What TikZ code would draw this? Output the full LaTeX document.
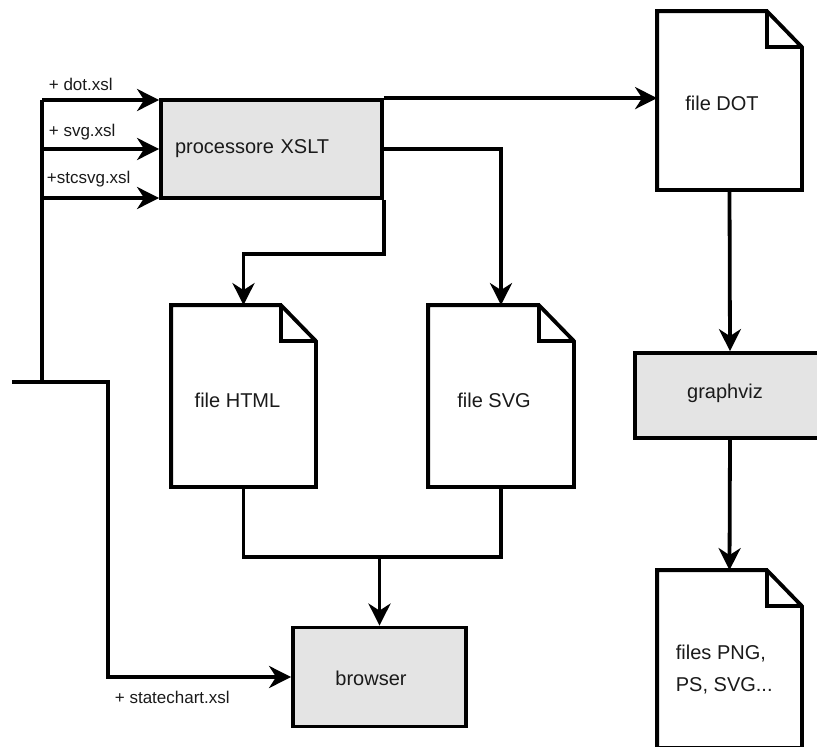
\documentclass[tikz,border=0pt]{standalone}
\usepackage{fontspec}
\setmainfont{Liberation Sans}
\usetikzlibrary{arrows.meta}

\definecolor{boxgray}{HTML}{E4E4E4}
\definecolor{ink}{HTML}{1A1A1A}

% dog-eared page outline drawn over a doc node
\newcommand\dogear[1]{%
  \draw[pageline] (#1.north west) -- ([xshift=-35pt]#1.north east)
    -- ([yshift=-36pt]#1.north east) -- (#1.south east) -- (#1.south west) -- cycle;
  \draw[pageline] ([xshift=-35pt]#1.north east) |- ([yshift=-36pt]#1.north east);
}

\begin{document}
\begin{tikzpicture}[x=1pt, y=-1pt,
  line width=3.8pt,
  wire/.style={draw=black, line join=miter},
  flow/.style={wire, -{Stealth[length=22pt, width=22pt, inset=7pt]}},
  procbox/.style={rectangle, draw=black, fill=boxgray, inner sep=0pt, text=ink,
    font=\fontsize{20}{24}\selectfont},
  docpage/.style={rectangle, fill=white, inner sep=0pt, minimum width=141pt},
  pageline/.style={draw=black, line join=miter},
  doctext/.style={text=ink, font=\fontsize{20}{32}\selectfont, inner sep=0pt},
  xsllabel/.style={text=ink, font=\fontsize{17}{20}\selectfont, inner sep=0pt, anchor=west}]

\useasboundingbox (0,0) rectangle (817,747);

% processing boxes
\node[procbox, minimum width=221pt, minimum height=98pt, text width=193pt, align=left,
      inner xsep=14pt] (xslt) at (271.5,149) {processore XSLT};
\node[procbox, minimum width=173pt, minimum height=99pt] (browser) at (379.5,677) {};
\node[doctext] (browsertxt) at (371,678) {browser};
\node[procbox, minimum width=190pt, minimum height=85pt] (graphviz) at (730,395.5) {};
\node[doctext] (graphviztxt) at (725,393) {graphviz};

% generated files
\node[docpage, minimum height=175pt] (dot) at (729.5,100.5) {};
\node[docpage, minimum height=178pt] (html) at (243.5,396) {};
\node[docpage, minimum height=178pt, minimum width=142pt] (svg) at (501,396) {};
\node[docpage, minimum height=174pt] (png) at (729.5,659) {};
\dogear{dot}
\dogear{html}
\dogear{svg}
\dogear{png}
\node[doctext] (dottxt) at (722,103) {file DOT};
\node[doctext] (htmltxt) at (237.5,400) {file HTML};
\node[doctext] (svgtxt) at (494,400) {file SVG};
\node[doctext, align=left, anchor=north west] (pngtxt) at (674,643) {files PNG,\\PS, SVG...};

% stylesheet bus on the left
\coordinate (inDot) at (42,100);
\coordinate (inSvg) at (42,149);
\coordinate (inStc) at (42,198);
\coordinate (busJoin) at (42,382);
\coordinate (busEnd) at (12,382);
\coordinate (busTurn) at (108,382);

\draw[wire] (inDot) -- (busJoin);
\draw[flow] (inDot) -- (inDot -| xslt.west);
\draw[flow] (inSvg) -- (xslt.west);
\draw[flow] (inStc) -- (inStc -| xslt.west);
\draw[flow] (busEnd) -- (busTurn) |- (browser.west);

\node[xsllabel] (ldot) at (47,84) {+ dot.xsl};
\node[xsllabel] (lsvg) at (47,132) {+ svg.xsl};
\node[xsllabel] (lstc) at (45,179) {+stcsvg.xsl};
\node[xsllabel] (lstate) at (113,697) {+ statechart.xsl};

% outputs of the XSLT processor
\draw[flow] (xslt.north east) -- (xslt.north east -| dot.west);
\draw[flow] (xslt.east) -| (svg.north);
\draw[flow] (xslt.south east) -- ++(0,54) -| (html.north);

% pages shown in the browser
\coordinate (merge) at (379.5,557);
\draw[wire] (html.south) |- (merge) -| (svg.south);
\draw[flow] (merge) -- (browser.north);

% graphviz chain
\draw[flow] (dot.south) -- (graphviz.north);
\draw[flow] (graphviz.south) -- (png.north);

\end{tikzpicture}
\end{document}
